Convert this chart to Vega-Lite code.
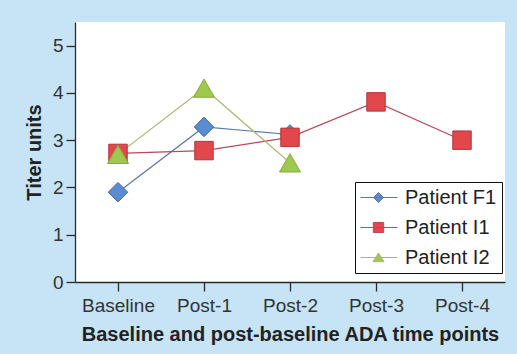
{
  "$schema": "https://vega.github.io/schema/vega-lite/v6.json",
  "width": 430,
  "height": 260,
  "autosize": {"type": "none"},
  "padding": {"left": 75, "top": 22, "right": 12, "bottom": 72},
  "background": "#c6e4f6",
  "config": {
    "view": {"fill": "white", "stroke": null},
    "font": "Liberation Sans",
    "axis": {
      "domainColor": "#2a2a2a", "domainWidth": 1.3,
      "tickColor": "#2a2a2a", "tickWidth": 1.3, "tickSize": 9,
      "labelFontSize": 19, "labelColor": "#333333",
      "titleFontSize": 20, "titleFontWeight": "bold", "titleColor": "#222222",
      "grid": false
    }
  },
  "data": {
    "values": [
      {"time": "Baseline", "patient": "Patient F1", "titer": 1.9},
      {"time": "Post-1", "patient": "Patient F1", "titer": 3.28},
      {"time": "Post-2", "patient": "Patient F1", "titer": 3.12},
      {"time": "Baseline", "patient": "Patient I1", "titer": 2.72},
      {"time": "Post-1", "patient": "Patient I1", "titer": 2.78},
      {"time": "Post-2", "patient": "Patient I1", "titer": 3.06},
      {"time": "Post-3", "patient": "Patient I1", "titer": 3.81},
      {"time": "Post-4", "patient": "Patient I1", "titer": 3.0},
      {"time": "Baseline", "patient": "Patient I2", "titer": 2.7},
      {"time": "Post-1", "patient": "Patient I2", "titer": 4.1},
      {"time": "Post-2", "patient": "Patient I2", "titer": 2.52}
    ]
  },
  "layer": [
    {
      "mark": {"type": "line", "strokeWidth": 1.2},
      "encoding": {
        "x": {"field": "time", "type": "ordinal", "sort": null,
          "scale": {"type": "point", "padding": 0.5, "domain": ["Baseline", "Post-1", "Post-2", "Post-3", "Post-4"]},
          "axis": {"labelAngle": 0, "labelPadding": 5, "title": "Baseline and post-baseline ADA time points", "titlePadding": 9}},
        "y": {"field": "titer", "type": "quantitative",
          "scale": {"domain": [0, 5.5], "nice": false},
          "axis": {"values": [0, 1, 2, 3, 4, 5], "labelPadding": 3, "title": "Titer units", "titlePadding": 8}},
        "stroke": {"field": "patient", "type": "nominal",
          "scale": {"domain": ["Patient F1", "Patient I1", "Patient I2"], "range": ["#5a7aa8", "#b84a5a", "#b0b372"]},
          "legend": {
            "title": null, "orient": "none", "legendX": 280, "legendY": 160,
            "labelFontSize": 20, "labelColor": "#222222",
            "strokeColor": "#111111", "fillColor": "white", "padding": 5,
            "symbolSize": 400, "symbolStrokeWidth": 1, "labelOffset": 24, "rowPadding": 9,
            "encode": {
              "symbols": {
                "update": {
                  "shape": {"signal": "datum.value === 'Patient F1' ? 'M-1,0H2.7M0.8,-0.5L1.3,0L0.8,0.5L0.3,0Z' : datum.value === 'Patient I1' ? 'M-1,0H2.7M0.28,-0.5H1.32V0.5H0.28Z' : 'M-1,0H2.7M0.8,-0.45L1.35,0.42L0.25,0.42Z'"},
                  "fill": {"signal": "datum.value === 'Patient F1' ? '#5b8cd2' : datum.value === 'Patient I1' ? '#e2474c' : '#9dca4c'"},
                  "stroke": {"signal": "datum.value === 'Patient F1' ? '#5a7aa8' : datum.value === 'Patient I1' ? '#b84a5a' : '#a3a868'"},
                  "size": {"value": 400},
                  "strokeWidth": {"value": 1},
                  "opacity": {"value": 1}
                }
              }
            }
          }}
      }
    },
    {
      "transform": [{"filter": "datum.patient === 'Patient F1'"}],
      "mark": {"type": "point", "shape": "diamond", "filled": true, "opacity": 1, "fill": "#5b8cd2", "stroke": "#40679e", "strokeWidth": 1, "size": 380},
      "encoding": {
        "x": {"field": "time", "type": "ordinal", "sort": null},
        "y": {"field": "titer", "type": "quantitative"}
      }
    },
    {
      "transform": [{"filter": "datum.patient === 'Patient I1'"}],
      "mark": {"type": "point", "shape": "square", "filled": true, "opacity": 1, "fill": "#e2474c", "stroke": "#b3363a", "strokeWidth": 1, "size": 340},
      "encoding": {
        "x": {"field": "time", "type": "ordinal", "sort": null},
        "y": {"field": "titer", "type": "quantitative"}
      }
    },
    {
      "transform": [{"filter": "datum.patient === 'Patient I2'"}],
      "mark": {"type": "point", "shape": "triangle-up", "filled": true, "opacity": 1, "fill": "#9dca4c", "stroke": "#86aa44", "strokeWidth": 1, "size": 441},
      "encoding": {
        "x": {"field": "time", "type": "ordinal", "sort": null},
        "y": {"field": "titer", "type": "quantitative"}
      }
    }
  ]
}
